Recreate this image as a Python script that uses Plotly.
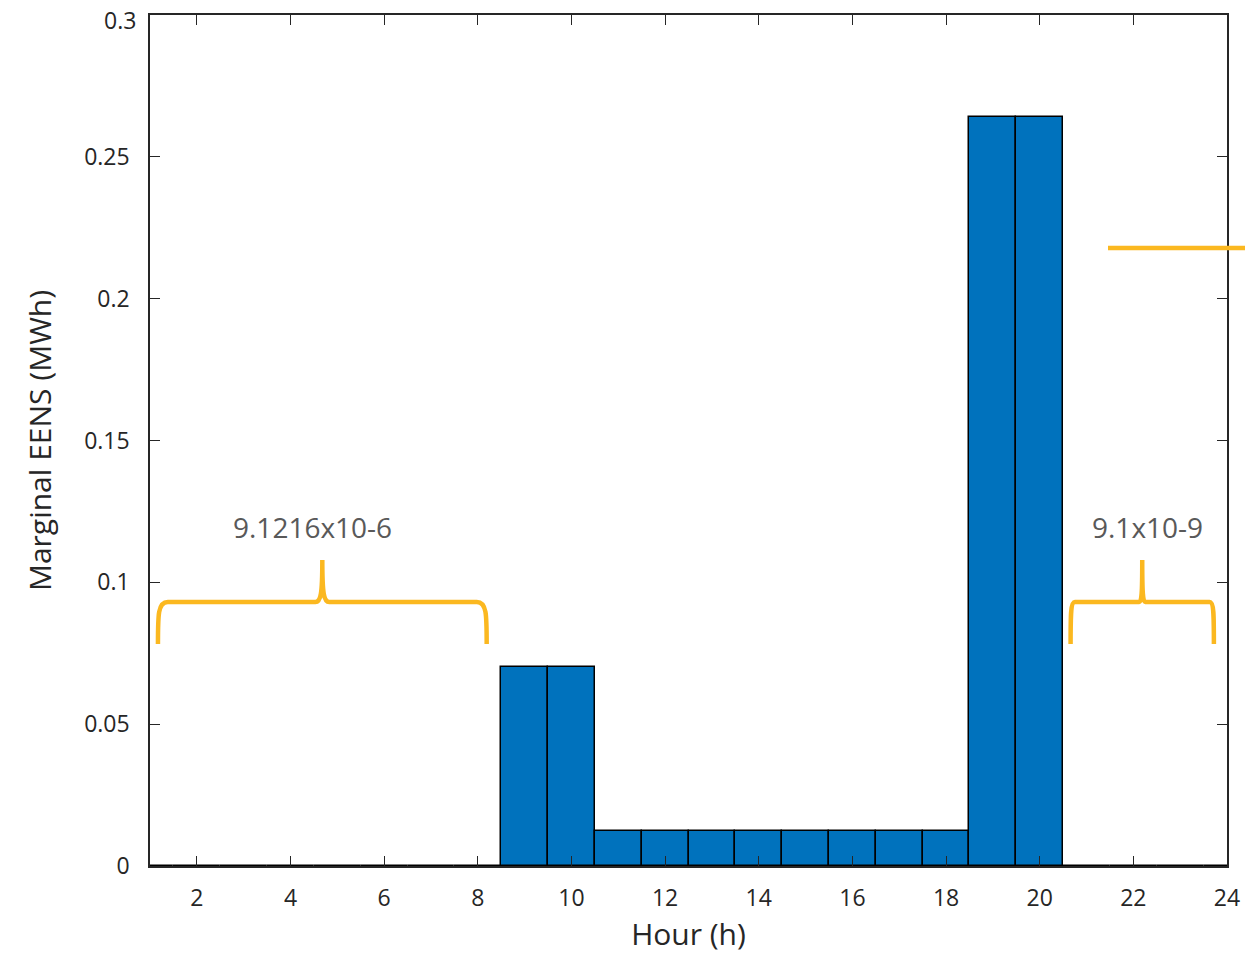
import plotly.graph_objects as go

hours = list(range(1, 25))
eens = [9.1216e-6] * 8 + [0.07, 0.07] + [0.0125] * 8 + [0.264, 0.264] + [9.1e-9] * 4
x_ticks = list(range(2, 25, 2))
y_ticks = [0, 0.05, 0.1, 0.15, 0.2, 0.25, 0.3]
y_labels = ["0", "0.05", "0.1", "0.15", "0.2", "0.25", "0.3"]
note_left = "9.1216x10-6"
note_right = "9.1x10-9"

FONT = "Open Sans, sans-serif"
ORANGE = "#FBB820"
AX = "#262626"

fig = go.Figure()
fig.add_trace(go.Bar(x=hours, y=eens, width=1, marker=dict(color="#0072BD", line=dict(color="black", width=1.5)),
                     showlegend=False))


def brace(x0, x1, xm, yb, ye, yt):
    w = (x1 - x0)
    dx = w * 0.03
    dy = (yb - ye)
    p = (f"M {x0},{ye} C {x0},{yb - dy*0.3} {x0},{yb} {x0+dx},{yb} "
         f"L {xm - dx*0.7},{yb} C {xm - dx*0.15},{yb} {xm},{yb + dy*0.2} {xm},{yt} "
         f"C {xm},{yb + dy*0.2} {xm + dx*0.15},{yb} {xm + dx*0.7},{yb} "
         f"L {x1-dx},{yb} C {x1},{yb} {x1},{yb - dy*0.3} {x1},{ye}")
    return dict(type="path", path=p, xref="x", yref="y", line=dict(color=ORANGE, width=4.5))


shapes = [
    brace(1.17, 8.19, 4.68, 0.0931, 0.0783, 0.1079),
    brace(20.66, 23.72, 22.19, 0.0931, 0.0783, 0.1079),
    dict(type="line", xref="paper", yref="y", x0=(1108 - 150) / 1077, x1=1.02, y0=0.2179, y1=0.2179,
         line=dict(color=ORANGE, width=4.5)),
]

# top tick label drawn as annotation so it stays fully inside the page
tick_text = y_labels[:-1] + [""]

fig.update_layout(
    width=1245, height=962,
    margin=dict(l=150, r=18, t=15, b=96, autoexpand=False),
    plot_bgcolor="white", paper_bgcolor="white",
    font=dict(family=FONT, color=AX, size=23),
    shapes=shapes,
    bargap=0,
    annotations=[
        dict(x=4.47, y=0.1195, xref="x", yref="y", text=note_left, showarrow=False,
             font=dict(size=28, color="#595959", family=FONT)),
        dict(x=22.3, y=0.1195, xref="x", yref="y", text=note_right, showarrow=False,
             font=dict(size=28, color="#595959", family=FONT)),
        dict(x=0, y=y_ticks[-1], xref="paper", yref="y", text=y_labels[-1], showarrow=False,
             xanchor="right", yanchor="middle", xshift=-12, yshift=-5,
             font=dict(size=23, color=AX, family=FONT)),
    ],
    xaxis=dict(range=[1, 24], tickvals=x_ticks, ticks="inside", ticklen=10, tickcolor=AX,
               showline=True, linecolor=AX, linewidth=1.5, mirror="ticks", showgrid=False, zeroline=False,
               automargin=False, ticklabelstandoff=11, ticklabeloverflow="allow",
               title=dict(text="Hour (h)", font=dict(size=30), standoff=10), tickfont=dict(size=23)),
    yaxis=dict(range=[0, 0.3], tickvals=y_ticks, ticktext=tick_text, ticks="inside", ticklen=10, tickcolor=AX,
               showline=True, linecolor=AX, linewidth=1.5, mirror="ticks", showgrid=False, zeroline=False,
               automargin=False, ticklabelstandoff=14, ticklabeloverflow="allow",
               title=dict(text="Marginal EENS (MWh)", font=dict(size=30), standoff=24), tickfont=dict(size=23)),
)

fig.write_html("out.html")
